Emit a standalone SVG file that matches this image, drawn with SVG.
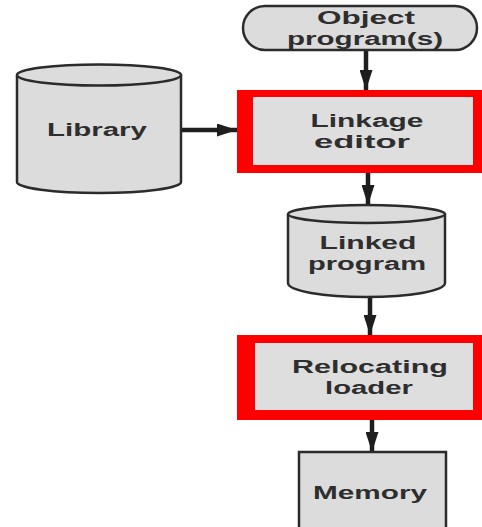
<svg xmlns="http://www.w3.org/2000/svg" width="482" height="527" viewBox="0 0 482 527">
  <defs>
    <style>
      .shape { fill: #dcdcdc; stroke: #2b2b2b; stroke-width: 2.5; }
      .frame { fill: #ff0000; }
      .inner { fill: #dedede; }
      .label { font-family: "Liberation Sans", Arial, sans-serif; font-size: 17.5px; font-weight: bold; fill: #2e2e2e; text-anchor: middle; }
      .wire { stroke: #1e1e1e; stroke-width: 4.5; fill: none; }
    </style>
    <marker id="head" viewBox="0 0 20 13" refX="20" refY="6.5" markerWidth="20" markerHeight="13" markerUnits="userSpaceOnUse" orient="auto">
      <path d="M0,0 L20,6.5 L0,13 Z" fill="#1e1e1e"/>
    </marker>
  </defs>

  <rect width="482" height="527" fill="#ffffff"/>

  <!-- connectors -->
  <g id="connectors">
    <line class="wire" x1="366" y1="50" x2="366" y2="90" marker-end="url(#head)"/>
    <line class="wire" x1="181" y1="130" x2="237" y2="130" marker-end="url(#head)"/>
    <line class="wire" x1="368" y1="173" x2="368" y2="205" marker-end="url(#head)"/>
    <line class="wire" x1="370" y1="297" x2="370" y2="335" marker-end="url(#head)"/>
    <line class="wire" x1="372" y1="420" x2="372" y2="452" marker-end="url(#head)"/>
  </g>

  <!-- Object program(s): terminal -->
  <g id="object-programs">
    <rect class="shape" x="243" y="6" width="234" height="44" rx="22" ry="22"/>
    <text class="label" x="366" y="24" textLength="98" lengthAdjust="spacingAndGlyphs">Object</text>
    <text class="label" x="365" y="44.5" textLength="156" lengthAdjust="spacingAndGlyphs">program(s)</text>
  </g>

  <!-- Library: storage cylinder -->
  <g id="library">
    <path class="shape" d="M17,75 L17,182 A82,11 0 0 0 181,182 L181,75"/>
    <ellipse class="shape" cx="99" cy="75" rx="82" ry="10.5"/>
    <text class="label" x="97" y="136" textLength="100" lengthAdjust="spacingAndGlyphs">Library</text>
  </g>

  <!-- Linkage editor: highlighted process -->
  <g id="linkage-editor">
    <rect class="frame" x="237" y="90" width="245" height="83"/>
    <rect class="inner" x="253" y="97" width="220" height="68"/>
    <text class="label" x="367" y="127" textLength="113" lengthAdjust="spacingAndGlyphs">Linkage</text>
    <text class="label" x="362" y="147.5" textLength="96" lengthAdjust="spacingAndGlyphs">editor</text>
  </g>

  <!-- Linked program: storage cylinder -->
  <g id="linked-program">
    <path class="shape" d="M288,214 L288,283 A78.5,14 0 0 0 445,283 L445,214"/>
    <ellipse class="shape" cx="366.5" cy="214" rx="78.5" ry="9"/>
    <text class="label" x="368" y="249" textLength="97" lengthAdjust="spacingAndGlyphs">Linked</text>
    <text class="label" x="367" y="269.5" textLength="118" lengthAdjust="spacingAndGlyphs">program</text>
  </g>

  <!-- Relocating loader: highlighted process -->
  <g id="relocating-loader">
    <rect class="frame" x="237" y="335" width="245" height="85"/>
    <rect class="inner" x="255" y="343" width="218" height="67"/>
    <text class="label" x="370" y="373" textLength="156" lengthAdjust="spacingAndGlyphs">Relocating</text>
    <text class="label" x="369" y="393.5" textLength="88" lengthAdjust="spacingAndGlyphs">loader</text>
  </g>

  <!-- Memory -->
  <g id="memory">
    <rect class="shape" x="299" y="452" width="147" height="90"/>
    <text class="label" x="370" y="499" textLength="114" lengthAdjust="spacingAndGlyphs">Memory</text>
  </g>
</svg>
